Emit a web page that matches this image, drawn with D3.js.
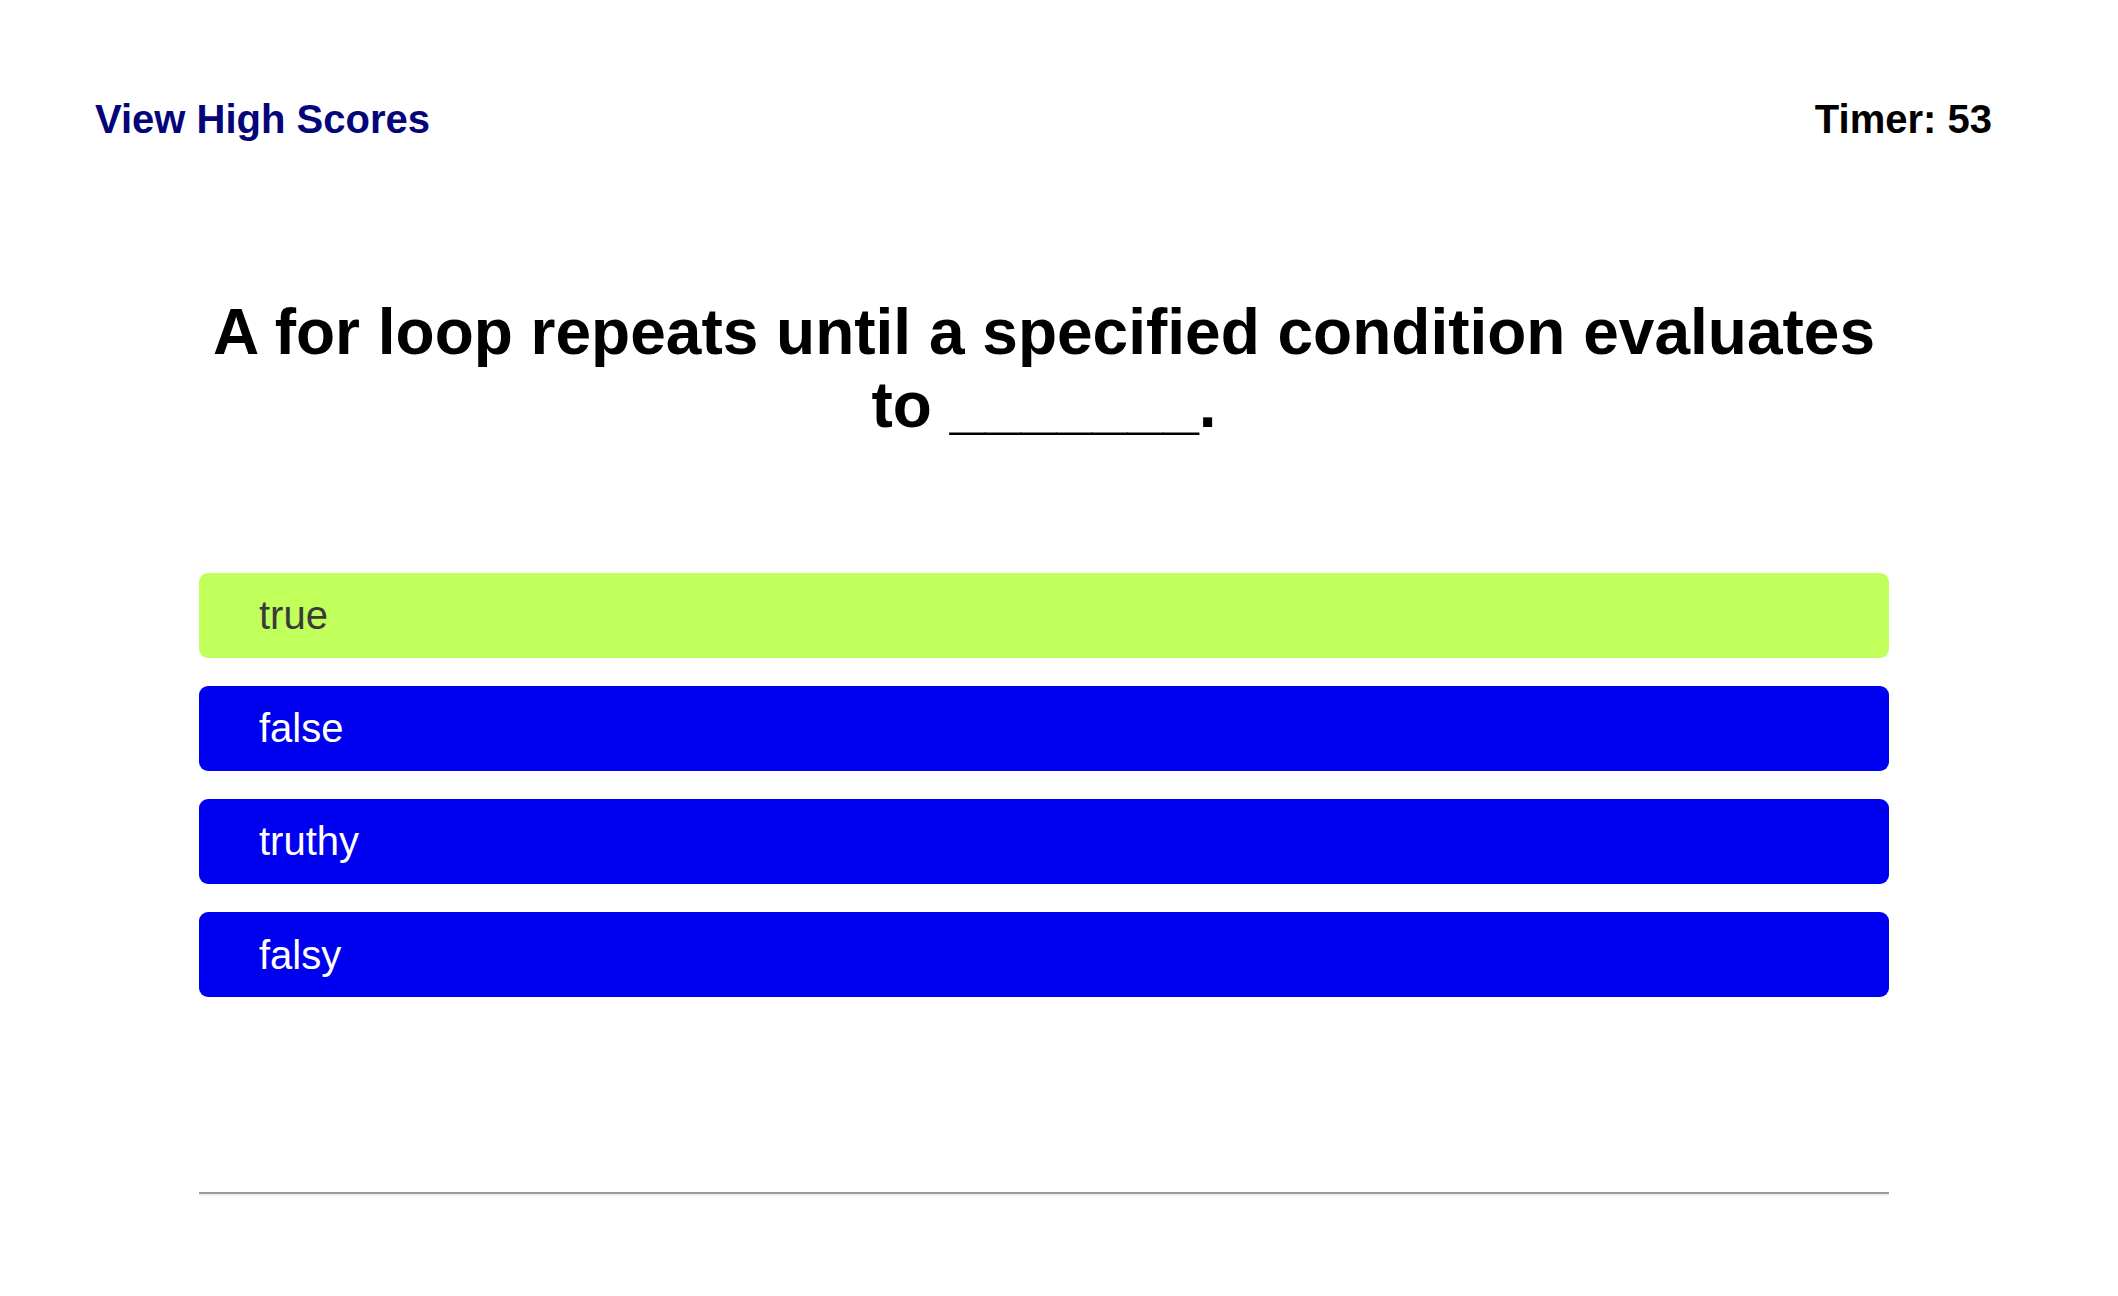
<!DOCTYPE html>
<html>
<head>
<meta charset="utf-8">
<title>Quiz</title>
<script src="https://cdnjs.cloudflare.com/ajax/libs/d3/7.8.5/d3.min.js"></script>
<style>
    html, body { margin: 0; padding: 0; background: #fff; }
    svg { display: block; font-family: "Liberation Sans", Arial, Helvetica, sans-serif; }
</style>
</head>
<body>
<div id="quiz"></div>
<script>
var headerLinks = ['View High Scores'];
var timerLabels = ['Timer: 53'];
var questionLines = ['A for loop repeats until a specified condition evaluates', 'to _______.'];
var answers = ['true', 'false', 'truthy', 'falsy'];
var answerState = ['selected', 'idle', 'idle', 'idle'];

(function(){
    'use strict';

    var width = 2118,
        height = 1296;

    var svg = d3.select('#quiz')
        .append('svg')
        .attr('width', width)
        .attr('height', height);

    // answer list area
    var x = d3.scaleLinear().domain([0, 1]).range([199, 1889]);
    var y = d3.scaleBand()
        .domain(answers)
        .range([573, 997])
        .paddingInner(0.248)
        .paddingOuter(0);

    var fill = d3.scaleOrdinal()
        .domain(['selected', 'idle'])
        .range(['#c1ff5b', '#0000f0']);
    var ink = d3.scaleOrdinal()
        .domain(['selected', 'idle'])
        .range(['#3a3a3a', '#ffffff']);

    // header
    svg.selectAll('text.link')
        .data(headerLinks)
        .enter()
        .append('text')
        .attr('class', 'link')
        .attr('x', 95)
        .attr('y', 133)
        .attr('font-size', 40)
        .attr('font-weight', 'bold')
        .attr('fill', '#05057a')
        .text(function(d){ return d; });

    svg.selectAll('text.timer')
        .data(timerLabels)
        .enter()
        .append('text')
        .attr('class', 'timer')
        .attr('x', 1992)
        .attr('y', 133)
        .attr('text-anchor', 'end')
        .attr('font-size', 40)
        .attr('font-weight', 'bold')
        .attr('fill', '#000')
        .text(function(d){ return d; });

    // question, one line per entry
    svg.append('text')
        .attr('x', (x(0) + x(1)) / 2)
        .attr('text-anchor', 'middle')
        .attr('font-size', 64)
        .attr('font-weight', 'bold')
        .attr('fill', '#000')
        .selectAll('tspan')
        .data(questionLines)
        .enter()
        .append('tspan')
        .attr('x', (x(0) + x(1)) / 2)
        .attr('y', function(d, i){ return 354 + i * 73; })
        .text(function(d){ return d; });

    // answer buttons
    var rows = svg.selectAll('g.answer')
        .data(answers)
        .enter()
        .append('g')
        .attr('class', 'answer')
        .attr('transform', function(d){ return 'translate(0,' + y(d) + ')'; });

    rows.append('rect')
        .attr('x', x(0))
        .attr('width', x(1) - x(0))
        .attr('height', y.bandwidth())
        .attr('rx', 9)
        .attr('ry', 9)
        .attr('fill', function(d, i){ return fill(answerState[i]); });

    rows.append('text')
        .attr('x', x(0) + 60)
        .attr('y', y.bandwidth() / 2 + 14)
        .attr('font-size', 40)
        .attr('fill', function(d, i){ return ink(answerState[i]); })
        .text(function(d){ return d; });

    // divider at the bottom
    svg.append('line')
        .attr('x1', x(0)).attr('x2', x(1))
        .attr('y1', 1193).attr('y2', 1193)
        .attr('stroke', '#9a9a9a')
        .attr('stroke-width', 2);
    svg.append('line')
        .attr('x1', x(0)).attr('x2', x(1))
        .attr('y1', 1195).attr('y2', 1195)
        .attr('stroke', '#eeeeee')
        .attr('stroke-width', 2);
}());
</script>
</body>
</html>
